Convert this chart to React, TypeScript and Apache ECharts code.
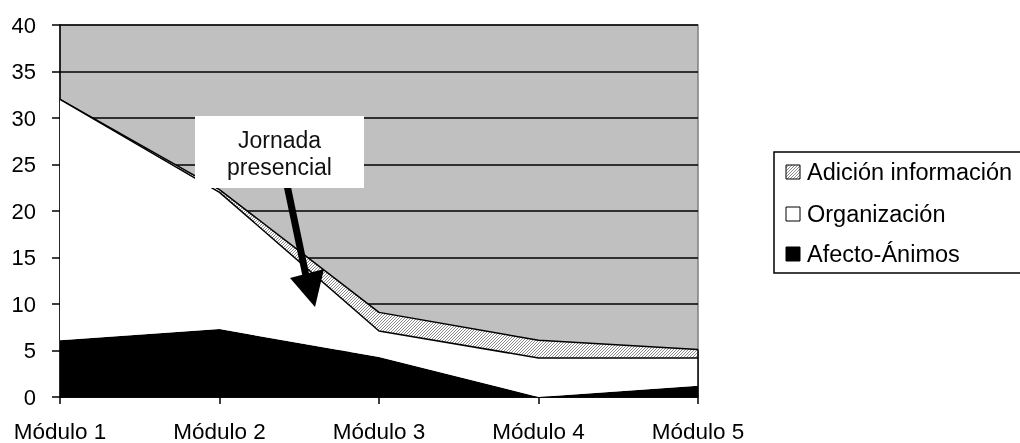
import React, { useEffect, useRef } from 'react';
import * as echarts from 'echarts';

const categories = ['Módulo 1', 'Módulo 2', 'Módulo 3', 'Módulo 4', 'Módulo 5'];
const afecto = [6.1, 7.3, 4.3, 0, 1.2];
const organizacion = [25.9, 14.7, 2.8, 4.2, 3.0];
const adicion = [0, 0.3, 2.0, 1.9, 0.9];
const yMin = 0;
const yMax = 40;
const yInterval = 5;
const seriesNames = ['Adición información', 'Organización', 'Afecto-Ánimos'];
const annotationText = 'Jornada\npresencial';

const FONT = '"Liberation Sans", Arial, sans-serif';

function makeHatch(): HTMLCanvasElement {
  const c = document.createElement('canvas');
  c.width = 3;
  c.height = 3;
  const ctx = c.getContext('2d')!;
  ctx.fillStyle = '#ffffff';
  ctx.fillRect(0, 0, 3, 3);
  ctx.fillStyle = '#8a8a8a';
  ctx.fillRect(2, 0, 1, 1);
  ctx.fillRect(1, 1, 1, 1);
  ctx.fillRect(0, 2, 1, 1);
  return c;
}

export default function App() {
  const ref = useRef<HTMLDivElement>(null);
  useEffect(() => {
    if (!ref.current) return;
    const chart = echarts.init(ref.current, null, { renderer: 'svg' });
    const hatch = { image: makeHatch(), repeat: 'repeat' };
    const last = categories.length - 1;
    const lastTotal = afecto[last] + organizacion[last] + adicion[last];
    const legendRows = [
      { name: seriesNames[0], fill: hatch, y: 172 },
      { name: seriesNames[1], fill: '#ffffff', y: 214 },
      { name: seriesNames[2], fill: '#000000', y: 254 },
    ];
    const graphic: any[] = [
      {
        type: 'rect',
        shape: { x: 774, y: 152, width: 300, height: 121 },
        style: { fill: '#ffffff', stroke: '#000', lineWidth: 1.5 },
        z: 10,
      },
    ];
    legendRows.forEach((r) => {
      graphic.push({
        type: 'rect',
        shape: { x: 786, y: r.y - 7, width: 14, height: 14 },
        style: { fill: r.fill, stroke: '#000', lineWidth: 1 },
        z: 11,
      });
      graphic.push({
        type: 'text',
        x: 807,
        y: r.y,
        style: {
          text: r.name,
          font: `23.5px ${FONT}`,
          fill: '#000',
          verticalAlign: 'middle',
          align: 'left',
        },
        z: 11,
      });
    });
    graphic.push({
      type: 'line',
      shape: { x1: 287, y1: 185, x2: 306, y2: 276 },
      style: { stroke: '#000', lineWidth: 7 },
      z: 12,
    });
    graphic.push({
      type: 'polygon',
      shape: { points: [[290, 278], [324, 269], [315, 307]] },
      style: { fill: '#000' },
      z: 12,
    });
    graphic.push({
      type: 'rect',
      shape: { x: 195, y: 116, width: 169, height: 72 },
      style: { fill: '#ffffff' },
      z: 13,
    });
    graphic.push({
      type: 'text',
      x: 279.5,
      y: 153,
      style: {
        text: annotationText,
        font: `23px ${FONT}`,
        lineHeight: 27,
        fill: '#111',
        align: 'center',
        verticalAlign: 'middle',
      },
      z: 14,
    });

    chart.setOption({
      animation: false,
      grid: {
        left: 60,
        right: 322,
        top: 25,
        bottom: 44,
        show: true,
        backgroundColor: '#c0c0c0',
        borderColor: '#808080',
        borderWidth: 1.5,
      },
      xAxis: {
        type: 'category',
        data: categories,
        boundaryGap: false,
        axisLine: { lineStyle: { color: '#000', width: 1.5 } },
        axisTick: { show: true, length: 7, lineStyle: { color: '#000', width: 1.5 } },
        axisLabel: { color: '#000', fontSize: 22.5, fontFamily: FONT, margin: 23 },
        splitLine: { show: false },
      },
      yAxis: {
        type: 'value',
        min: yMin,
        max: yMax,
        interval: yInterval,
        axisLine: { show: true, lineStyle: { color: '#000', width: 1.5 } },
        axisTick: { show: true, length: 8, lineStyle: { color: '#000', width: 1.5 } },
        axisLabel: { color: '#000', fontSize: 22, fontFamily: FONT, margin: 24 },
        splitLine: { show: true, lineStyle: { color: '#000', width: 1.5 } },
      },
      series: [
        {
          name: seriesNames[2],
          type: 'line',
          stack: 'total',
          data: afecto,
          showSymbol: false,
          lineStyle: { width: 0, color: '#000' },
          areaStyle: { color: '#000', opacity: 1 },
          z: 2,
        },
        {
          name: seriesNames[1],
          type: 'line',
          stack: 'total',
          data: organizacion,
          showSymbol: false,
          lineStyle: { width: 1.5, color: '#000' },
          areaStyle: { color: '#ffffff', opacity: 1 },
          z: 4,
        },
        {
          name: seriesNames[0],
          type: 'line',
          stack: 'total',
          data: adicion,
          showSymbol: false,
          lineStyle: { width: 1.5, color: '#000' },
          areaStyle: { color: hatch, opacity: 1 },
          z: 3,
          markLine: {
            silent: true,
            symbol: 'none',
            label: { show: false },
            lineStyle: { color: '#000', width: 1.5, type: 'solid' },
            data: [[{ coord: [last, 0] }, { coord: [last, lastTotal] }]],
          },
        },
      ],
      graphic,
    });
    return () => chart.dispose();
  }, []);
  return (
    <div
      ref={ref}
      style={{ position: 'fixed', left: 0, top: 0, width: 1020, height: 443 }}
    />
  );
}
